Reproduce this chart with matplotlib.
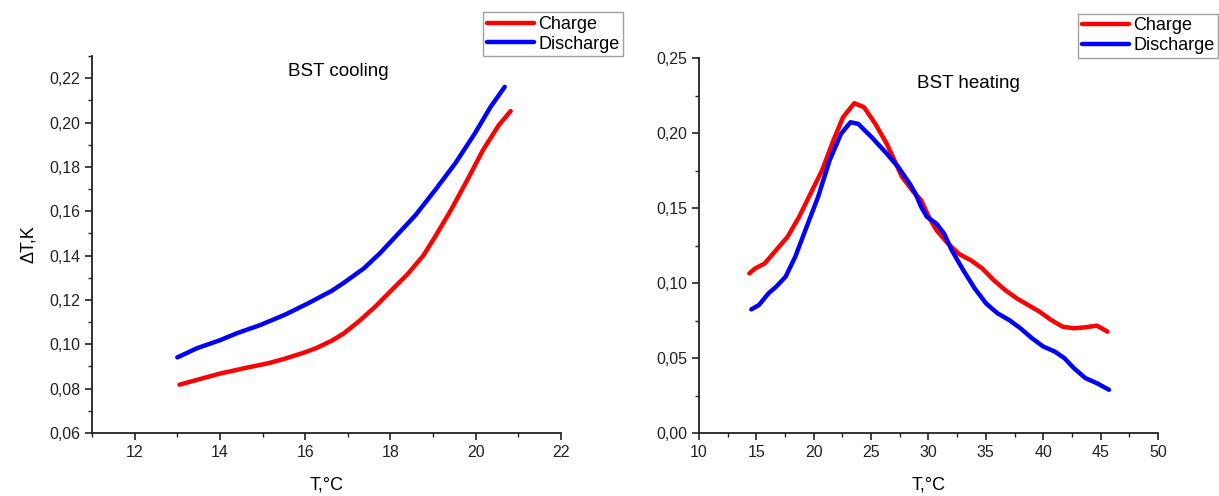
import matplotlib.pyplot as plt
from matplotlib.ticker import MultipleLocator, FuncFormatter

plt.rcParams['font.family'] = ['Liberation Sans', 'DejaVu Sans']

# BST cooling
cool_charge_T = [13.05, 13.47, 13.98, 14.59, 15.14, 15.52, 15.98, 16.26, 16.63, 16.91,
                 17.28, 17.66, 18.03, 18.4, 18.77, 19.05, 19.42, 19.8, 20.17, 20.54, 20.82]
cool_charge_dT = [0.0818, 0.084, 0.0867, 0.0893, 0.0915, 0.0935, 0.0963, 0.0983, 0.1017, 0.105,
                  0.1107, 0.1173, 0.1245, 0.1316, 0.140, 0.1486, 0.1606, 0.174, 0.1876, 0.1988, 0.2052]
cool_dis_T = [13.0, 13.47, 13.98, 14.4, 14.96, 15.52, 16.07, 16.63, 16.91, 17.38,
              17.75, 18.12, 18.59, 19.05, 19.52, 19.98, 20.35, 20.68]
cool_dis_dT = [0.0941, 0.0983, 0.1017, 0.105, 0.1088, 0.1133, 0.1185, 0.1242, 0.1278, 0.1343,
               0.141, 0.1486, 0.1583, 0.1696, 0.1816, 0.1951, 0.2071, 0.2161]

# BST heating
heat_charge_T = [14.39, 14.89, 15.72, 16.72, 17.72, 18.72, 19.72, 20.72, 21.71, 22.55, 23.54,
                 24.38, 25.37, 26.37, 27.04, 27.7, 28.7, 29.37, 30.03, 30.7, 31.7, 32.7, 33.69,
                 34.69, 35.69, 36.69, 37.69, 38.69, 39.68, 40.68, 41.68, 42.68, 43.68, 44.68, 45.6]
heat_charge_dT = [0.1064, 0.1097, 0.113, 0.1219, 0.1308, 0.144, 0.1596, 0.175, 0.195, 0.2105, 0.2199,
                  0.2172, 0.2061, 0.1928, 0.1817, 0.1707, 0.1607, 0.1551, 0.144, 0.1352, 0.1263, 0.1192,
                  0.1152, 0.1097, 0.1019, 0.0953, 0.0898, 0.0853, 0.0809, 0.0754, 0.0709, 0.0698,
                  0.0705, 0.0716, 0.0676]
heat_dis_T = [14.56, 15.22, 16.06, 16.72, 17.55, 18.39, 19.38, 20.38, 21.38, 22.38, 23.21, 23.88,
              25.04, 26.37, 27.37, 28.37, 28.87, 29.37, 29.87, 30.7, 31.36, 32.03, 33.03, 34.03,
              35.02, 36.02, 37.02, 38.02, 39.02, 40.02, 41.01, 41.85, 42.68, 43.68, 44.68, 45.74]
heat_dis_dT = [0.0824, 0.0853, 0.0931, 0.0975, 0.1042, 0.1175, 0.1374, 0.1574, 0.1817, 0.1995, 0.2072,
               0.2061, 0.1973, 0.1862, 0.1773, 0.1662, 0.1596, 0.1507, 0.1441, 0.1396, 0.133, 0.1219,
               0.1086, 0.0964, 0.0864, 0.0798, 0.0754, 0.0698, 0.0632, 0.0576, 0.0543, 0.0499,
               0.0432, 0.0366, 0.0332, 0.0288]

fig = plt.figure(figsize=(12.19, 4.96), dpi=100)
ax1 = fig.add_axes([0.0755, 0.127, 0.3847, 0.760])
ax2 = fig.add_axes([0.5734, 0.127, 0.3765, 0.756])

comma2 = FuncFormatter(lambda v, p: f'{v:.2f}'.replace('.', ','))
comma0 = FuncFormatter(lambda v, p: f'{v:.0f}')


def style(ax):
    for s in ['top', 'right']:
        ax.spines[s].set_visible(False)
    for s in ['left', 'bottom']:
        ax.spines[s].set_linewidth(1.3)
        ax.spines[s].set_color('#222222')
    ax.tick_params(which='major', direction='out', length=5, width=1.2, labelsize=11.5, colors='#222222')
    ax.tick_params(which='minor', direction='out', length=3, width=1.0, colors='#222222')
    ax.yaxis.set_major_formatter(comma2)
    ax.xaxis.set_major_formatter(comma0)


ax1.plot(cool_charge_T, cool_charge_dT, color='#ff0000', lw=3.2, label='Charge', solid_capstyle='round')
ax1.plot(cool_dis_T, cool_dis_dT, color='#0000ff', lw=3.2, label='Discharge', solid_capstyle='round')
ax1.set_xlim(11, 22)
ax1.set_ylim(0.06, 0.23)
ax1.xaxis.set_major_locator(MultipleLocator(2))
ax1.xaxis.set_minor_locator(MultipleLocator(1))
ax1.yaxis.set_major_locator(MultipleLocator(0.02))
ax1.yaxis.set_minor_locator(MultipleLocator(0.01))
style(ax1)
ax1.set_xlabel('T,°C', fontsize=13, labelpad=12)
ax1.set_ylabel('ΔT,K', fontsize=13, labelpad=9)
ax1.text(0.526, 0.958, 'BST cooling', transform=ax1.transAxes, ha='center', va='center', fontsize=13.5)

ax2.plot(heat_charge_T, heat_charge_dT, color='#ff0000', lw=3.2, label='Charge', solid_capstyle='round')
ax2.plot(heat_dis_T, heat_dis_dT, color='#0000ff', lw=3.2, label='Discharge', solid_capstyle='round')
ax2.set_xlim(10, 50)
ax2.set_ylim(0.0, 0.25)
ax2.xaxis.set_major_locator(MultipleLocator(5))
ax2.xaxis.set_minor_locator(MultipleLocator(2.5))
ax2.yaxis.set_major_locator(MultipleLocator(0.05))
ax2.yaxis.set_minor_locator(MultipleLocator(0.025))
style(ax2)
ax2.set_xlabel('T,°C', fontsize=13, labelpad=12)
ax2.text(0.588, 0.933, 'BST heating', transform=ax2.transAxes, ha='center', va='center', fontsize=13.5)

for ax, anchor in [(ax1, (0.511, 0.975)), (ax2, (0.9995, 0.972))]:
    leg = ax.legend(loc='upper right', bbox_to_anchor=anchor, bbox_transform=fig.transFigure,
                    fontsize=13, frameon=True, fancybox=False, handlelength=2.6,
                    handletextpad=0.25, borderpad=0.2, labelspacing=0.15, borderaxespad=0)
    leg.get_frame().set_edgecolor('#888888')
    leg.get_frame().set_linewidth(1.0)

fig.savefig('out.png', dpi=100)
